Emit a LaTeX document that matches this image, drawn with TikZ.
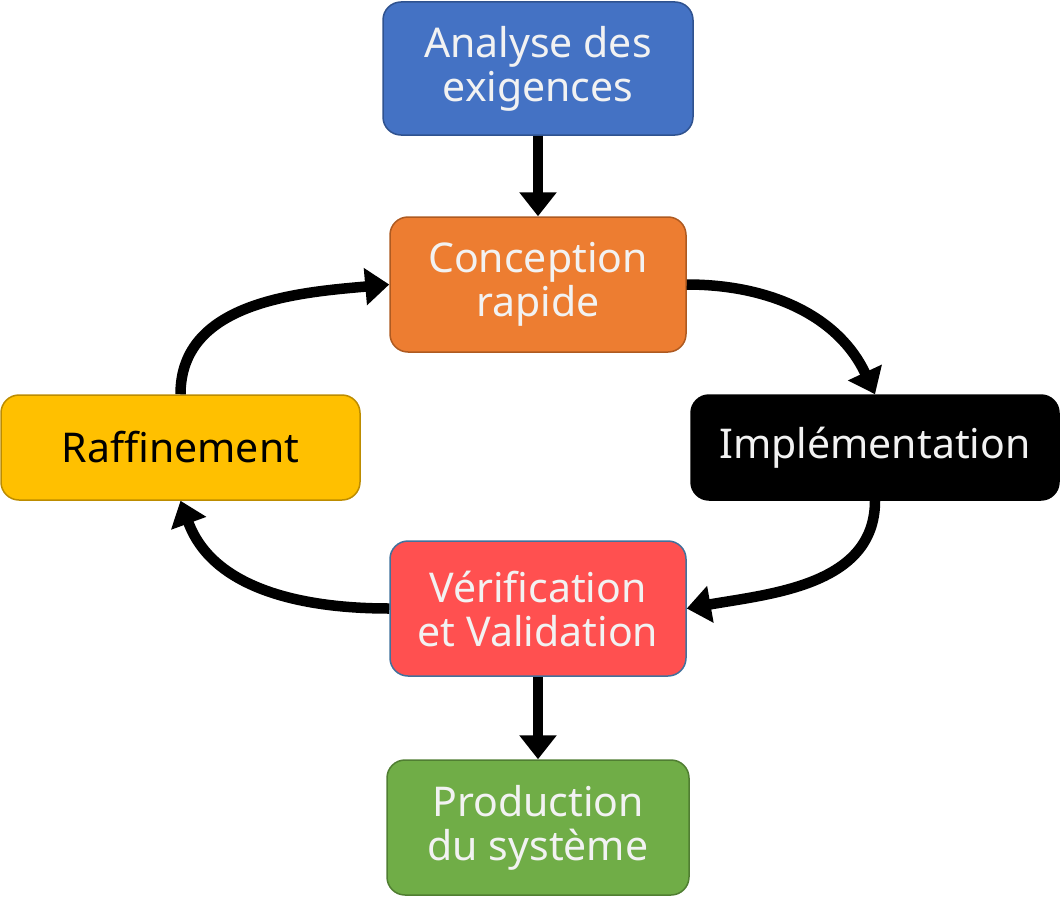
\documentclass[tikz,border=0pt]{standalone}
\usepackage{fontspec}
\setmainfont{Noto Sans}
\usetikzlibrary{arrows.meta}
\definecolor{bleu}{RGB}{68, 114, 196}
\definecolor{bleuf}{RGB}{47, 82, 143}
\definecolor{orange}{RGB}{237, 125, 49}
\definecolor{orangef}{RGB}{174, 90, 33}
\definecolor{jaune}{RGB}{255, 192, 0}
\definecolor{jaunef}{RGB}{188, 140, 0}
\definecolor{rouge}{RGB}{255, 80, 80}
\definecolor{rougef}{RGB}{65, 113, 156}
\definecolor{vert}{RGB}{112, 173, 71}
\definecolor{vertf}{RGB}{80, 126, 50}
\definecolor{clair}{RGB}{242, 242, 242}

\begin{document}
\begin{tikzpicture}[etape/.style={rectangle, rounded corners=18pt, align=center, line width=1.5pt, text=clair, inner sep=0pt, font=\fontsize{41}{44}\selectfont},
fleche/.style={line width=10.5pt, -{Triangle[length=24pt, width=36pt]}}]
\useasboundingbox (0pt, 0pt) rectangle (1060pt, -899pt);
\node (analyse) [etape, fill=bleu, draw=bleuf, minimum width=310pt, minimum height=133pt] at (538pt, -68.5pt) {Analyse des\\exigences};
\node (conception) [etape, fill=orange, draw=orangef, minimum width=296pt, minimum height=135pt] at (538pt, -284.5pt) {Conception\\rapide};
\node (impl) [etape, fill=black, draw=black, minimum width=368pt, minimum height=105pt] at (875pt, -447.5pt) {Implémentation};
\node (raff) [etape, fill=jaune, draw=jaunef, text=black, minimum width=359pt, minimum height=105pt] at (180.5pt, -447.5pt) {Raffinement};
\node (verif) [etape, fill=rouge, draw=rougef, minimum width=296pt, minimum height=135pt] at (538pt, -608.5pt) {Vérification\\et Validation};
\node (prod) [etape, fill=vert, draw=vertf, minimum width=302pt, minimum height=135pt] at (538pt, -827.5pt) {Production\\du système};
\draw [fleche] (analyse) to (conception);
\draw [fleche] (verif) to (prod);
\draw [fleche] (conception.east) to[out=0, in=115] (impl.north);
\draw [fleche] (impl.south) to[out=-90, in=10] (verif.east);
\draw [fleche] (verif.west) to[out=180, in=-70] (raff.south);
\draw [fleche] (raff.north) to[out=90, in=185] (conception.west);
\end{tikzpicture}
\end{document}
